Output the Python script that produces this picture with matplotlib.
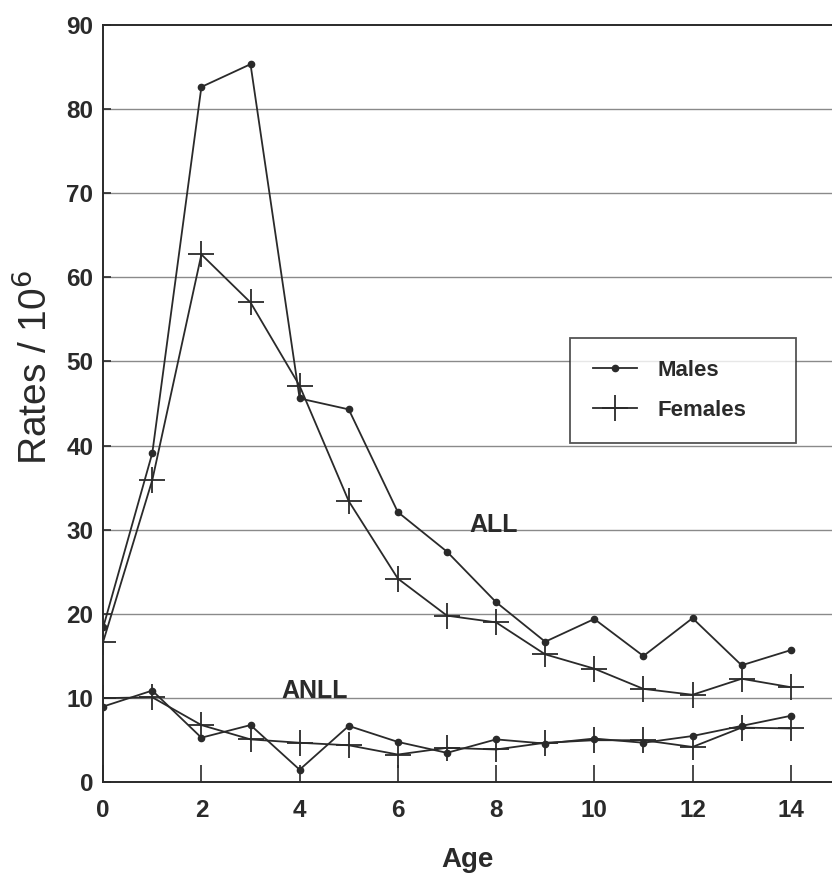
import numpy as np
import matplotlib.pyplot as plt

plt.rcParams['font.family'] = ['Liberation Sans', 'DejaVu Sans']

ages = list(range(15))

all_males = [18.4, 39.1, 82.6, 85.3, 45.6, 44.3, 32.1, 27.4, 21.4, 16.7, 19.4, 15.0, 19.5, 13.9, 15.7]
all_females = [16.7, 35.9, 62.7, 57.0, 47.1, 33.4, 24.2, 19.8, 19.0, 15.2, 13.5, 11.1, 10.4, 12.3, 11.3]
anll_males = [9.0, 10.9, 5.3, 6.8, 1.5, 6.7, 4.8, 3.5, 5.1, 4.6, 5.2, 4.7, 5.5, 6.7, 7.9]
anll_females = [10.0, 10.1, 6.8, 5.1, 4.7, 4.4, 3.3, 4.1, 3.9, 4.7, 5.0, 5.0, 4.2, 6.5, 6.4]

yticks = list(range(0, 100, 10))
xticks = list(range(0, 15, 2))

ink = '#2a2a2a'

fig = plt.figure(figsize=(8.32, 8.8), dpi=100)
ax = fig.add_axes([0.124, 0.111, 0.876, 0.861])

# grid lines every 10
for v in yticks[1:-1]:
    ax.axhline(v, color='#8a8a8a', lw=1.0, zorder=0)

male_kw = dict(color=ink, lw=1.3, marker='o', ms=4.5, mfc=ink, mec=ink)
female_kw = dict(color=ink, lw=1.3, marker='+', ms=19, mew=1.3)

lm, = ax.plot(ages, all_males, label='Males', **male_kw)
lf, = ax.plot(ages, all_females, label='Females', **female_kw)
ax.plot(ages, anll_males, **male_kw)
ax.plot(ages, anll_females, **female_kw)

ax.text(7.95, 30.6, 'ALL', fontsize=18, fontweight='bold', ha='center', va='center', color=ink)
ax.text(4.3, 10.9, 'ANLL', fontsize=18, fontweight='bold', ha='center', va='center', color=ink)

ax.set_xlim(0, 14.84)
ax.set_ylim(0, 90)
ax.set_xticks(xticks)
ax.set_yticks(yticks)
ax.tick_params(axis='x', direction='in', length=12, width=1.2, labelsize=17.5, pad=12, colors=ink)
ax.tick_params(axis='y', direction='in', length=6, width=1.2, labelsize=17.5, pad=7, colors=ink)
for lab in ax.get_xticklabels() + ax.get_yticklabels():
    lab.set_fontweight('bold')

for s in ['left', 'bottom', 'top']:
    ax.spines[s].set_linewidth(1.4)
    ax.spines[s].set_color(ink)
ax.spines['right'].set_visible(False)

ax.set_xlabel('Age', fontsize=20, fontweight='bold', color=ink, labelpad=18)
ax.set_ylabel('Rates / 10$^6$', fontsize=28, color=ink)
ax.yaxis.set_label_coords(-0.066, 0.548)

leg = ax.legend(handles=[lm, lf], loc='upper left', bbox_to_anchor=(0.641, 0.447, 0.309, 0.14),
                mode='expand', fontsize=16, frameon=True, fancybox=False, edgecolor=ink,
                handlelength=2.0, borderpad=1.0, labelspacing=0.85, handletextpad=0.9,
                borderaxespad=0)
leg.get_frame().set_linewidth(1.3)
for t in leg.get_texts():
    t.set_fontweight('bold')
    t.set_color(ink)
leg.set_zorder(5)

fig.savefig('out.png', dpi=100, facecolor='white')
